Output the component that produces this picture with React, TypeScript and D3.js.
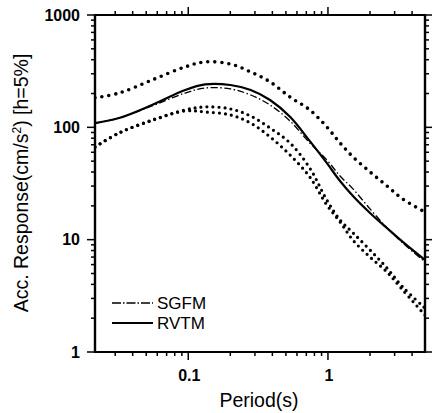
import React from 'react';
import * as d3 from 'd3';

// Periods (s) at which the curves are sampled
const periods = [0.0215, 0.032, 0.055, 0.095, 0.132, 0.2, 0.28, 0.385, 0.535, 0.74, 0.98, 1.22, 1.51, 2.0, 2.64, 3.43, 4.95];
// Acceleration response (cm/s^2)
const upperBound = [183, 202, 264, 345, 382, 366, 311, 254, 186, 143, 101, 72.6, 54.5, 40.1, 30.1, 23.0, 17.6];
const rvtm = [109, 121, 158, 215, 241, 238, 215, 175, 124, 75.7, 48.2, 33.3, 24.5, 17.3, 12.7, 9.55, 6.59];
const sgfm = [109, 121, 155, 202, 224, 220, 194, 158, 114, 72.6, 51.3, 36.9, 28.3, 18.8, 12.8, 9.34, 6.33];
const lowerA = [66.9, 89.1, 116, 143, 152, 146, 126, 98.6, 72.6, 43.5, 22.6, 15.0, 11.5, 8.09, 5.6, 3.79, 2.46];
const lowerB = [66.9, 89.1, 115, 140, 137, 129, 109, 82.2, 56.8, 36.2, 20.4, 14.4, 9.9, 7.0, 5.16, 3.56, 2.13];

const xMajorTicks = [0.1, 1];
const xTickLabels = ['0.1', '1'];
const yMajorTicks = [1, 10, 100, 1000];
const yTickLabels = ['1', '10', '100', '1000'];
const legendLabels = ['SGFM', 'RVTM'];

const FONT = 'Liberation Sans, Arial, Helvetica, sans-serif';

export default function App() {
  const W = 432, H = 413;
  const left = 95, right = 425, top = 15, bottom = 352;
  const x = d3.scaleLog().domain([0.0215, 4.95]).range([left, right]);
  const y = d3.scaleLog().domain([1, 1000]).range([bottom, top]);

  const line = d3.line<number>()
    .x((_, i) => x(periods[i]))
    .y((d) => y(d))
    .curve(d3.curveCatmullRom.alpha(0.5));

  const xMinor: number[] = [];
  [0.01, 0.1, 1].forEach((dec) => {
    for (let k = 2; k <= 9; k++) {
      const v = dec * k;
      if (v > 0.0215 && v < 4.95) xMinor.push(v);
    }
  });
  const yMinor: number[] = [];
  [1, 10, 100].forEach((dec) => {
    for (let k = 2; k <= 9; k++) yMinor.push(dec * k);
  });

  const maj = 8, mnr = 4;

  return (
    <svg width={W} height={H} style={{ position: 'absolute', left: 0, top: 0, background: '#fff' }}
      fontFamily={FONT}>
      <rect x={0} y={0} width={W} height={H} fill="#fff" />
      <defs>
        <clipPath id="plot">
          <rect x={left} y={top} width={right - left} height={bottom - top} />
        </clipPath>
      </defs>

      <g clipPath="url(#plot)" fill="none" stroke="#000" strokeLinecap="round">
        <path d={line(upperBound) || ''} strokeWidth={3.6} strokeDasharray="0 7" />
        <path d={line(lowerA) || ''} strokeWidth={3.2} strokeDasharray="0 6" />
        <path d={line(lowerB) || ''} strokeWidth={3.2} strokeDasharray="0 6" />
        <path d={line(sgfm) || ''} strokeWidth={1.3} strokeDasharray="7 2.5 1.5 2.5" strokeLinecap="butt" />
        <path d={line(rvtm) || ''} strokeWidth={2.2} />
      </g>

      {/* frame */}
      <g stroke="#000" fill="none">
        <line x1={left} x2={right} y1={top} y2={top} strokeWidth={2} />
        <line x1={left} x2={right} y1={bottom} y2={bottom} strokeWidth={2} />
        <line x1={left} x2={left} y1={top - 1} y2={bottom + 1} strokeWidth={2.4} />
        <line x1={right} x2={right} y1={top - 1} y2={bottom + 1} strokeWidth={2.4} />
      </g>

      {/* ticks */}
      <g stroke="#000" strokeWidth={1.5}>
        {xMajorTicks.map((t) => (
          <g key={'xm' + t}>
            <line x1={x(t)} x2={x(t)} y1={bottom} y2={bottom + maj} />
            <line x1={x(t)} x2={x(t)} y1={top} y2={top - maj} />
          </g>
        ))}
        {xMinor.map((t) => (
          <g key={'xn' + t}>
            <line x1={x(t)} x2={x(t)} y1={bottom} y2={bottom + mnr} />
            <line x1={x(t)} x2={x(t)} y1={top} y2={top - mnr} />
          </g>
        ))}
        {yMajorTicks.map((t) => (
          <g key={'ym' + t}>
            <line x1={left} x2={left - maj} y1={y(t)} y2={y(t)} />
            <line x1={right} x2={right + maj} y1={y(t)} y2={y(t)} />
          </g>
        ))}
        {yMinor.map((t) => (
          <g key={'yn' + t}>
            <line x1={left} x2={left - mnr} y1={y(t)} y2={y(t)} />
            <line x1={right} x2={right + mnr} y1={y(t)} y2={y(t)} />
          </g>
        ))}
      </g>

      {/* tick labels */}
      <g fontWeight="bold" fontSize={16} fill="#000">
        {yMajorTicks.map((t, i) => (
          <text key={'yl' + t} x={80} y={y(t)} textAnchor="end" dominantBaseline="central">{yTickLabels[i]}</text>
        ))}
        {xMajorTicks.map((t, i) => (
          <text key={'xl' + t} x={x(t) + 1} y={381} textAnchor="middle">{xTickLabels[i]}</text>
        ))}
      </g>

      {/* axis titles */}
      <text x={259} y={407} textAnchor="middle" fontSize={19.5} fill="#000">Period(s)</text>
      <text transform="translate(28,183) rotate(-90)" textAnchor="middle" fontSize={19.5} fill="#000">
        Acc. Response(cm/s<tspan fontSize={12} dy={-7}>2</tspan><tspan dy={7}>) [h=5%]</tspan>
      </text>

      {/* legend */}
      <g stroke="#000" fill="none">
        <line x1={112} x2={153} y1={303} y2={303} strokeWidth={1.3} strokeDasharray="9 2 1.5 2" />
        <line x1={112} x2={153} y1={323} y2={323} strokeWidth={2.2} />
      </g>
      <g fontSize={17} fill="#000">
        <text x={157} y={303} dominantBaseline="central">{legendLabels[0]}</text>
        <text x={157} y={323} dominantBaseline="central">{legendLabels[1]}</text>
      </g>
    </svg>
  );
}
